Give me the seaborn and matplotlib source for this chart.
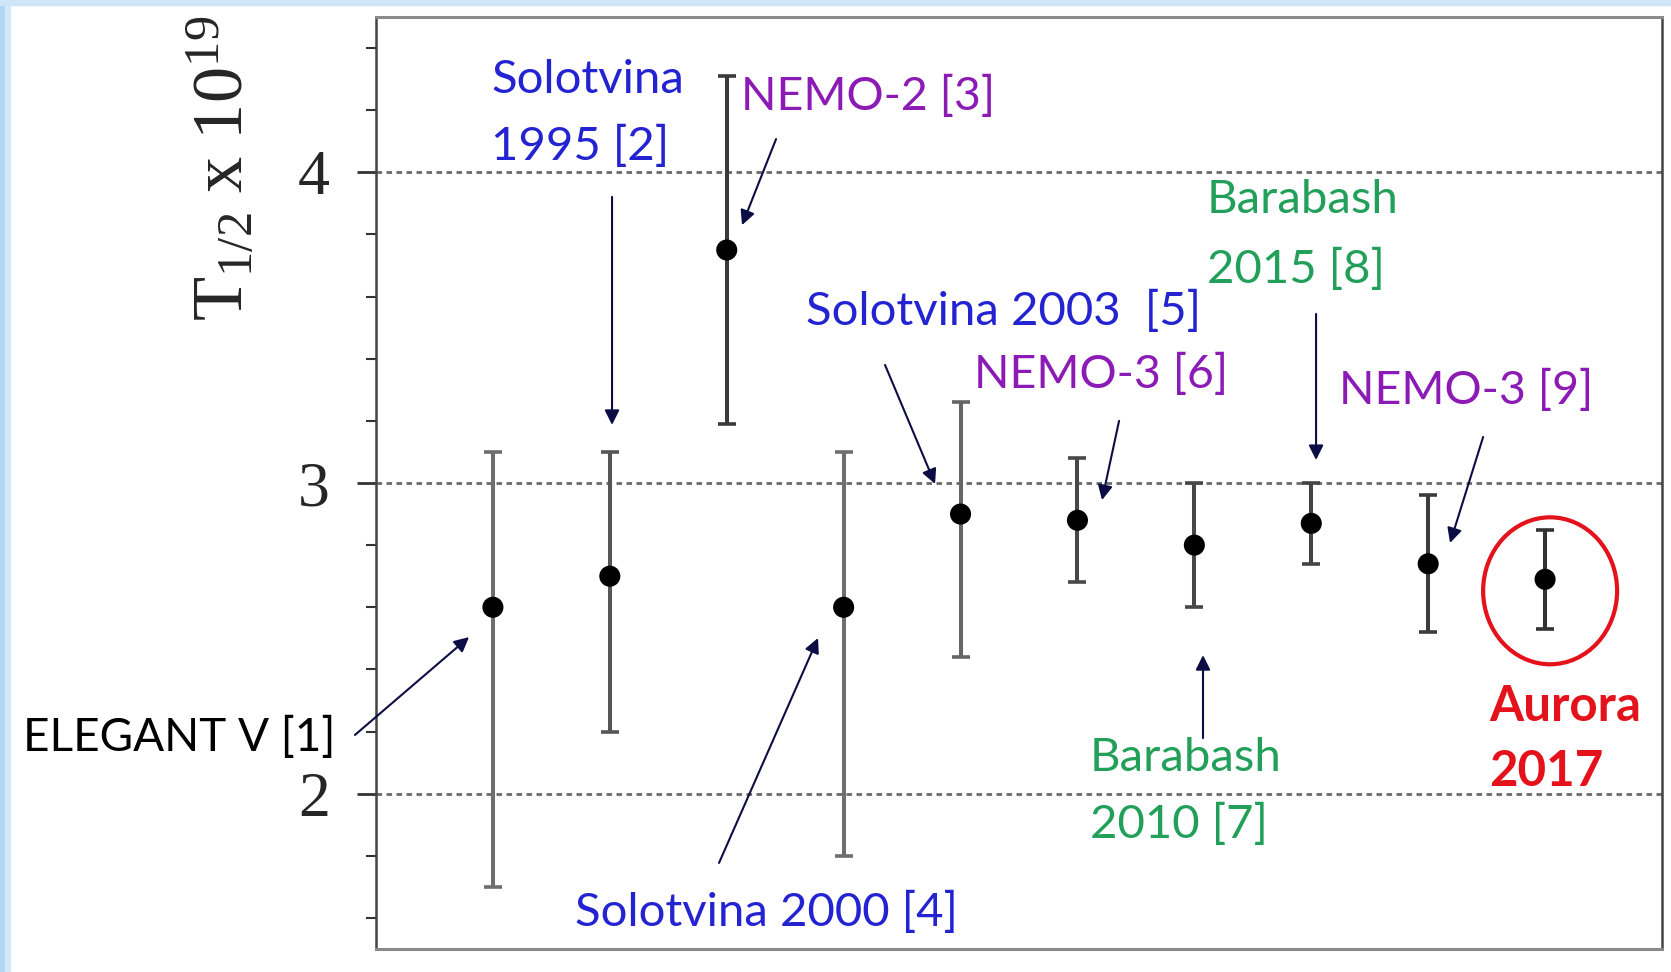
import numpy as np
import pandas as pd
import matplotlib
matplotlib.use("Agg")
import matplotlib.pyplot as plt
import seaborn as sns
from matplotlib.patches import Ellipse, Rectangle
from matplotlib.ticker import MultipleLocator

# Measured 2-neutrino double-beta half-lives of 116Cd (units of 1e19 yr)
experiments = ["ELEGANT V [1]", "Solotvina 1995 [2]", "NEMO-2 [3]", "Solotvina 2000 [4]",
               "Solotvina 2003 [5]", "NEMO-3 [6]", "Barabash 2010 [7]", "Barabash 2015 [8]",
               "NEMO-3 [9]", "Aurora 2017"]
half_life = [2.60, 2.70, 3.75, 2.60, 2.90, 2.88, 2.80, 2.87, 2.74, 2.69]
upper = [3.10, 3.10, 4.31, 3.10, 3.26, 3.08, 3.00, 3.00, 2.96, 2.85]
lower = [1.70, 2.20, 3.19, 1.80, 2.44, 2.68, 2.60, 2.74, 2.52, 2.53]
y_ticks = [2, 3, 4]
y_tick_labels = ["2", "3", "4"]

df = pd.DataFrame({
    "experiment": experiments,
    "position": np.arange(1, len(experiments) + 1),
    "value": half_life,
    "upper": upper,
    "lower": lower,
})

sns.set_theme(style="white")
plt.rcParams["font.family"] = ["Lato", "DejaVu Sans"]
plt.rcParams["mathtext.fontset"] = "custom"
plt.rcParams["mathtext.rm"] = "Liberation Serif"
plt.rcParams["mathtext.it"] = "Liberation Serif:italic"

W, H = 1671, 972
fig = plt.figure(figsize=(W / 100, H / 100), dpi=100)
fig.patch.set_facecolor("white")
ax = fig.add_axes([376 / W, 1 - 949 / H, (1662 - 376) / W, (949 - 17) / H])
ax.set_facecolor("white")

# light blue slide border
fig.patches.append(Rectangle((0, 0), 5 / W, 1, transform=fig.transFigure,
                             color="#b2d7f5", zorder=0))
fig.patches.append(Rectangle((5 / W, 0), 5 / W, 1, transform=fig.transFigure,
                             color="#d5e9fa", zorder=0))
fig.patches.append(Rectangle((0, 1 - 5 / H), 1, 5 / H, transform=fig.transFigure,
                             color="#cfe6f9", zorder=0))

# error bars, lighter grey for the older measurements
bar_colors = ["#6e6e6e", "#555555", "#3a3a3a", "#6e6e6e", "#666666",
              "#484848", "#484848", "#444444", "#3c3c3c", "#333333"]
for i, row in df.iterrows():
    ax.errorbar(row["position"], row["value"],
                yerr=[[row["value"] - row["lower"]], [row["upper"] - row["value"]]],
                fmt="none", ecolor=bar_colors[i], elinewidth=2.9,
                capsize=6.5, capthick=2.6, zorder=3)

sns.scatterplot(data=df, x="position", y="value", color="black", s=230,
                edgecolor="none", ax=ax, zorder=5, legend=False)

ax.set_xlim(0, 11)
ax.set_ylim(1.5, 4.5)
ax.set_xticks([])
ax.set_yticks(y_ticks)
ax.set_yticklabels(y_tick_labels, fontfamily="Liberation Serif", fontsize=46)
ax.yaxis.set_minor_locator(MultipleLocator(0.2))
ax.tick_params(axis="y", which="major", direction="out", length=14, width=2,
               color="#333333", pad=19, left=True)
ax.tick_params(axis="y", which="minor", direction="out", length=7, width=1.5,
               color="#333333", left=True)
ax.set_xlabel("")
ax.set_ylabel(r"$\mathrm{T_{1/2}\ x\ 10^{19}}$", fontsize=52, va="center")
ax.yaxis.set_label_coords(-0.121, 0.838)

for yv in y_ticks:
    ax.axhline(yv, color="#6a6a6a", lw=2.0, ls=(0, (2, 1.6)), zorder=1)

for side in ["left", "right"]:
    ax.spines[side].set_linestyle((0, (1, 1)))
    ax.spines[side].set_linewidth(1.8)
    ax.spines[side].set_color("#444444")
for side in ["top", "bottom"]:
    ax.spines[side].set_linewidth(2.2)
    ax.spines[side].set_color("#8a8a8a")

blue = "#2323d2"
purple = "#8c1ab4"
green = "#22a05a"
red = "#e3121b"
navy = "#0d0d45"

labels = [
    ("ELEGANT V [1]", -3.02, 2.182, "black", "normal", 33),
    ("Solotvina", 0.984, 4.297, blue, "normal", 34),
    ("1995 [2]", 0.984, 4.085, blue, "normal", 34),
    ("NEMO-2 [3]", 3.122, 4.246, purple, "normal", 33.5),
    ("Solotvina 2000 [4]", 1.702, 1.619, blue, "normal", 34),
    ("Solotvina 2003  [5]", 3.678, 3.554, blue, "normal", 34),
    ("NEMO-3 [6]", 5.116, 3.351, purple, "normal", 33.5),
    ("Barabash", 6.108, 2.115, green, "normal", 34),
    ("2010 [7]", 6.108, 1.902, green, "normal", 34),
    ("Barabash", 7.109, 3.911, green, "normal", 34),
    ("2015 [8]", 7.109, 3.689, green, "normal", 34),
    ("NEMO-3 [9]", 8.238, 3.299, purple, "normal", 33.5),
    ("Aurora", 9.521, 2.282, red, "bold", 35.5),
    ("2017", 9.521, 2.070, red, "bold", 35.5),
]
for text, tx, ty, col, wt, fs in labels:
    ax.text(tx, ty, text, color=col, fontsize=fs, fontweight=wt,
            ha="left", va="center", clip_on=False, zorder=6)

arrows = [
    ((-0.180, 2.189), (0.796, 2.504)),
    ((2.019, 3.921), (2.019, 3.187)),
    ((3.422, 4.107), (3.131, 3.830)),
    ((2.934, 1.777), (3.781, 2.501)),
    ((4.354, 3.380), (4.782, 2.997)),
    ((6.356, 3.200), (6.210, 2.945)),
    ((7.074, 2.179), (7.074, 2.446)),
    ((8.041, 3.544), (8.041, 3.074)),
    ((9.470, 3.148), (9.187, 2.807)),
]
for start, tip in arrows:
    ax.annotate("", xy=tip, xytext=start, xycoords="data", textcoords="data",
                arrowprops=dict(arrowstyle="-|>", color=navy, lw=1.5,
                                mutation_scale=22, shrinkA=0, shrinkB=0),
                annotation_clip=False, zorder=6)

ax.add_patch(Ellipse((10.043, 2.653), 1.146, 0.473, fill=False,
                     edgecolor=red, lw=3.0, zorder=6))

fig.savefig("out.png", dpi=100, facecolor="white")
